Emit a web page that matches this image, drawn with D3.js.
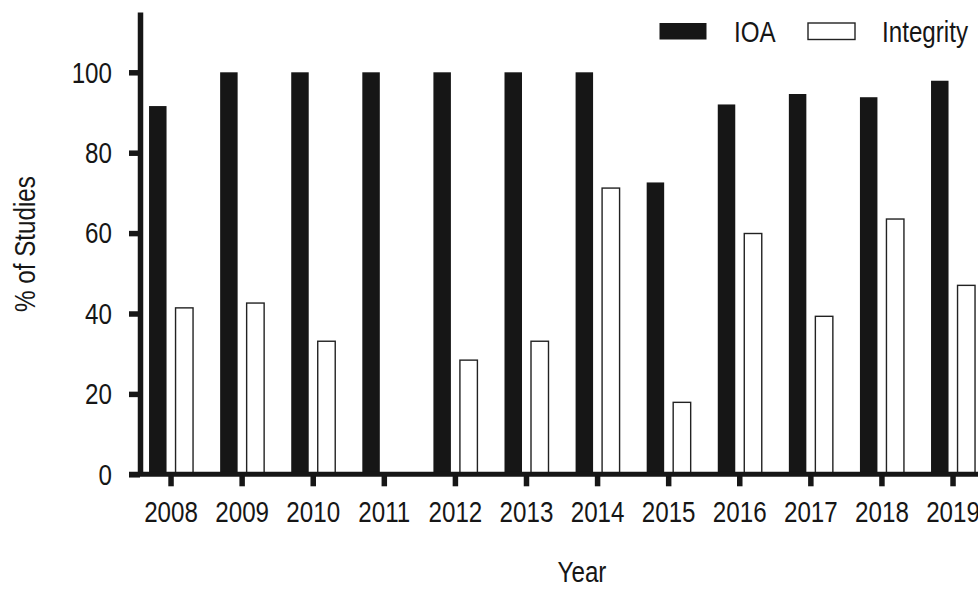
<!DOCTYPE html>
<html><head><meta charset="utf-8">
<script src="https://cdn.jsdelivr.net/npm/d3@7"></script>
<style>body{margin:0;background:#fff}svg{display:block}text{font-family:"Liberation Sans",Arial,sans-serif;fill:#161616}</style>
</head><body>
<svg id="c" width="978" height="590"></svg>
<script>
const years = ["2008","2009","2010","2011","2012","2013","2014","2015","2016","2017","2018","2019"];
const seriesNames = ["IOA","Integrity"];
const ioa = [91.6,100,100,100,100,100,100,72.6,92.0,94.6,93.8,97.9];
const integrity = [41.4,42.6,33.1,0,28.4,33.1,71.2,17.9,59.9,39.3,63.5,47.0];
const yTicks = [0,20,40,60,80,100];

const ink = "#161616";
const FS = 29.5, SX = 0.82;
const svg = d3.select("#c");
const axisX = 140;
const y = d3.scaleLinear().domain([0,115]).range([474.3,12]);
const x = d3.scaleBand().domain(years).range([135.5,135.5+12*71.09]).padding(0);
const xs = d3.scaleBand().domain(seriesNames).range([-22,22]).paddingInner(0.34).paddingOuter(0);

const data = years.map((yr,i)=>({year:yr, values:[{k:"IOA",v:ioa[i]},{k:"Integrity",v:integrity[i]}]}));

const g = svg.append("g");
const grp = g.selectAll("g.grp").data(data).join("g").attr("class","grp")
  .attr("transform",d=>`translate(${x(d.year)+x.bandwidth()/2},0)`);
grp.selectAll("rect").data(d=>d.values.filter(v=>v.v>0)).join("rect")
  .attr("x",d=>xs(d.k)).attr("width",xs.bandwidth())
  .attr("y",d=>y(d.v)).attr("height",d=>y(0)-y(d.v))
  .attr("fill",d=>d.k==="IOA"?ink:"#fff")
  .attr("stroke",d=>d.k==="IOA"?"none":"#222")
  .attr("stroke-width",1.4);

// y axis
const ya = svg.append("g").attr("transform",`translate(${axisX},0)`)
  .call(d3.axisLeft(y).tickValues(yTicks).tickSizeInner(11).tickSizeOuter(0).tickPadding(17));
ya.select(".domain").attr("stroke",ink).attr("stroke-width",5.5);
ya.selectAll(".tick line").attr("stroke",ink).attr("stroke-width",5.5);
ya.selectAll(".tick text").attr("font-size",FS).attr("fill",ink)
  .attr("x",null).attr("dy",null).attr("dominant-baseline","central")
  .attr("transform",`translate(-28,0) scale(${SX},1)`);

// x axis
const xa = svg.append("g").attr("transform",`translate(0,${y(0)})`)
  .call(d3.axisBottom(x).tickSizeInner(12).tickSizeOuter(0).tickPadding(14));
xa.select(".domain").remove();
xa.selectAll(".tick line").attr("stroke",ink).attr("stroke-width",5.5);
xa.selectAll(".tick text").attr("font-size",FS).attr("fill",ink)
  .attr("dy",null).attr("y",null).attr("dominant-baseline","auto")
  .attr("transform",`translate(0,47.5) scale(${SX},1)`);
svg.append("line").attr("x1",axisX-11).attr("x2",978).attr("y1",y(0)).attr("y2",y(0))
  .attr("stroke",ink).attr("stroke-width",5);

// titles
svg.append("text").attr("font-size",FS).attr("text-anchor","middle")
  .attr("transform",`translate(582,582) scale(${SX},1)`).text("Year");
svg.append("text").attr("font-size",FS).attr("text-anchor","middle")
  .attr("transform",`translate(35,244) rotate(-90) scale(${SX},1)`).text("% of Studies");

// legend
const legend = [{k:"IOA",rx:659.5,tx:734},{k:"Integrity",rx:808,tx:882}];
const lg = svg.selectAll("g.leg").data(legend).join("g").attr("class","leg");
lg.append("rect").attr("x",d=>d.rx).attr("y",23).attr("width",47).attr("height",16.5)
  .attr("fill",d=>d.k==="IOA"?ink:"#fff").attr("stroke",d=>d.k==="IOA"?"none":"#222").attr("stroke-width",1.4);
lg.append("text").attr("font-size",FS)
  .attr("transform",d=>`translate(${d.tx},42) scale(${SX},1)`).text(d=>d.k);
</script>
</body></html>
